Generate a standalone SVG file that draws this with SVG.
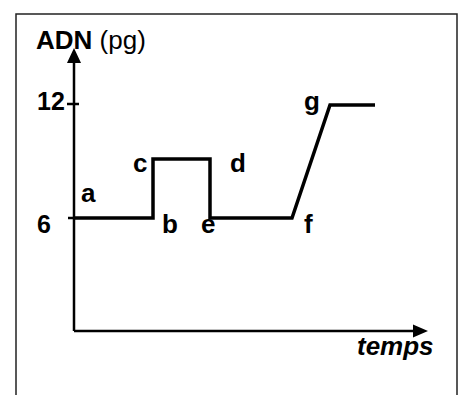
<svg xmlns="http://www.w3.org/2000/svg" width="462" height="395" viewBox="0 0 462 395">
<style>
.lbl{font-family:"Liberation Sans",Arial,sans-serif;font-size:26px;font-weight:bold;fill:#000}
.num{font-size:25px}
.reg{font-weight:normal}
.ax{stroke:#000;stroke-width:2.5;fill:none}
.cv{stroke:#000;stroke-width:3.5;fill:none;stroke-linejoin:miter}
</style>
<rect width="462" height="395" fill="#fff"/>
<path d="M16,396 V14 H457 V396" fill="none" stroke="#222" stroke-width="1.5"/>
<g id="axes">
<line class="ax" x1="74" y1="331" x2="74" y2="63"/>
<path d="M67,63 L74,48 L81,63 Z" fill="#000"/>
<line class="ax" x1="74" y1="331" x2="413" y2="331"/>
<path d="M413,324.5 L428,331 L413,337.5 Z" fill="#000"/>
<line class="ax" x1="67" y1="104" x2="79" y2="104"/>
<line class="ax" x1="68" y1="218" x2="74" y2="218"/>
</g>
<g id="connectors">
<path class="cv" d="M74,218 H153 V159 H210 V218 H292 L330,105 H375"/>
</g>
<g id="labels">
<text class="lbl" x="36" y="49">ADN<tspan class="reg"> (pg)</tspan></text>
<text class="lbl num" x="37" y="110">12</text>
<text class="lbl num" x="37" y="233">6</text>
<text class="lbl" x="81" y="202">a</text>
<text class="lbl" x="133" y="172">c</text>
<text class="lbl" x="230" y="172">d</text>
<text class="lbl" x="162" y="233">b</text>
<text class="lbl" x="201" y="233">e</text>
<text class="lbl" x="304" y="233">f</text>
<text class="lbl" x="304" y="110">g</text>
<text class="lbl" x="357" y="355" font-style="italic">temps</text>
</g>
</svg>
